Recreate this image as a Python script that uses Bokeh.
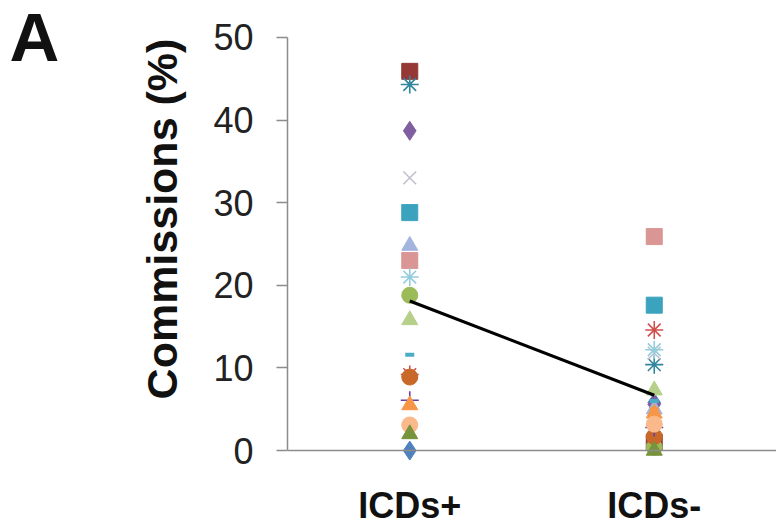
import math
from bokeh.plotting import figure
from bokeh.models import (ColumnDataSource, FactorRange, Range1d, FixedTicker,
                          Span, Label, LinearAxis)
from bokeh.embed import file_html
from bokeh.resources import INLINE

# ---- data ----
categories = ["ICDs+", "ICDs-"]
tick_values = [0, 10, 20, 30, 40, 50]

markers = ["diamond", "square", "asterisk", "diamond", "x", "square", "triangle",
           "square", "asterisk", "circle", "triangle", "dash", "asterisk",
           "circle", "cross", "triangle", "circle", "dash", "triangle"]
colors = ["#4F81BD", "#953735", "#31859C", "#7F5FA0", "#BFC0CC", "#3BA3BE",
          "#A3B4DD", "#DA9694", "#93CDDD", "#9BBB59", "#B6D08A", "#4BACC6",
          "#D0504D", "#C8692A", "#6A3FA0", "#F79646", "#FAB98A", "#F79646",
          "#77933C"]
values_plus = [0.0, 45.9, 44.3, 38.7, 33.0, 28.8, 24.8, 23.0, 21.0, 18.8,
               15.8, 11.6, 9.2, 8.9, 6.1, 5.5, 3.1, 1.9, 2.0]
values_minus = [5.8, 1.0, 10.4, 5.6, 11.8, 17.6, 5.0, 25.9, 12.2, 0.4,
                7.3, 6.0, 14.6, 1.7, 2.8, 4.5, 3.2, 5.0, 0.0]
mean_values = [18.1, 6.7]

# ---- build source ----
n = len(markers)
xs, ys, mk, cl, sz, lw = [], [], [], [], [], []
for cat, vals in zip(categories, [values_plus, values_minus]):
    for i in range(n):
        xs.append(cat)
        ys.append(vals[i])
        mk.append(markers[i])
        cl.append(colors[i])
        m = markers[i]
        if m in ("x", "asterisk", "cross"):
            sz.append(18); lw.append(1.6)
        elif m == "dash":
            sz.append(9); lw.append(4)
        elif m == "diamond":
            sz.append(19); lw.append(1)
        else:
            sz.append(16); lw.append(1)

src = ColumnDataSource(dict(x=xs, y=ys, marker=mk, color=cl, size=sz, lw=lw))

p = figure(width=776, height=528, output_backend="svg", toolbar_location=None,
           x_range=FactorRange(factors=categories),
           y_range=Range1d(-1.2, 50.6),
           min_border_left=287, min_border_right=0, min_border_top=32,
           min_border_bottom=67)
p.outline_line_color = None
p.grid.visible = False
p.background_fill_color = "white"

p.scatter(x="x", y="y", marker="marker", size="size", fill_color="color",
          line_color="color", line_width="lw", source=src)

p.line(x=categories, y=mean_values, line_color="black", line_width=3.2)

p.add_layout(Span(location=0, dimension="width", line_color="#8C8C8C",
                  line_width=1.5))

ya = p.yaxis[0]
ya.ticker = FixedTicker(ticks=tick_values)
ya.bounds = (0, 50)
ya.axis_line_color = "#8C8C8C"
ya.axis_line_width = 1.5
ya.major_tick_line_color = "#8C8C8C"
ya.major_tick_line_width = 1.5
ya.major_tick_out = 11
ya.major_tick_in = 0
ya.minor_tick_line_color = None
ya.major_label_text_font = "Liberation Sans"
ya.major_label_text_font_size = "36px"
ya.major_label_text_color = "#222222"
ya.major_label_standoff = 23

# outer axis carrying only the title (leading non-breaking space lifts it)
ylab = LinearAxis(ticker=FixedTicker(ticks=[]),
                  axis_line_color=None, major_tick_line_color=None,
                  minor_tick_line_color=None,
                  axis_label="\u2003\u00a0Commissions (%)",
                  axis_label_text_font="Liberation Sans",
                  axis_label_text_font_style="bold",
                  axis_label_text_font_size="43px",
                  axis_label_text_color="#111111",
                  axis_label_standoff=25)
p.add_layout(ylab, "left")

xa = p.xaxis[0]
xa.axis_line_color = None
xa.major_tick_line_color = None
xa.minor_tick_line_color = None
xa.major_label_text_font = "Liberation Sans"
xa.major_label_text_font_style = "bold"
xa.major_label_text_font_size = "36px"
xa.major_label_text_color = "#111111"
xa.major_label_standoff = 18

p.add_layout(Label(x=-75, y=423, x_units="screen", y_units="screen",
                   text="A", text_align="left", text_baseline="alphabetic",
                   text_font="Liberation Sans", text_font_style="bold",
                   text_font_size="69px", text_color="#111111"), "left")

open("out.html", "w").write(file_html(p, INLINE))
